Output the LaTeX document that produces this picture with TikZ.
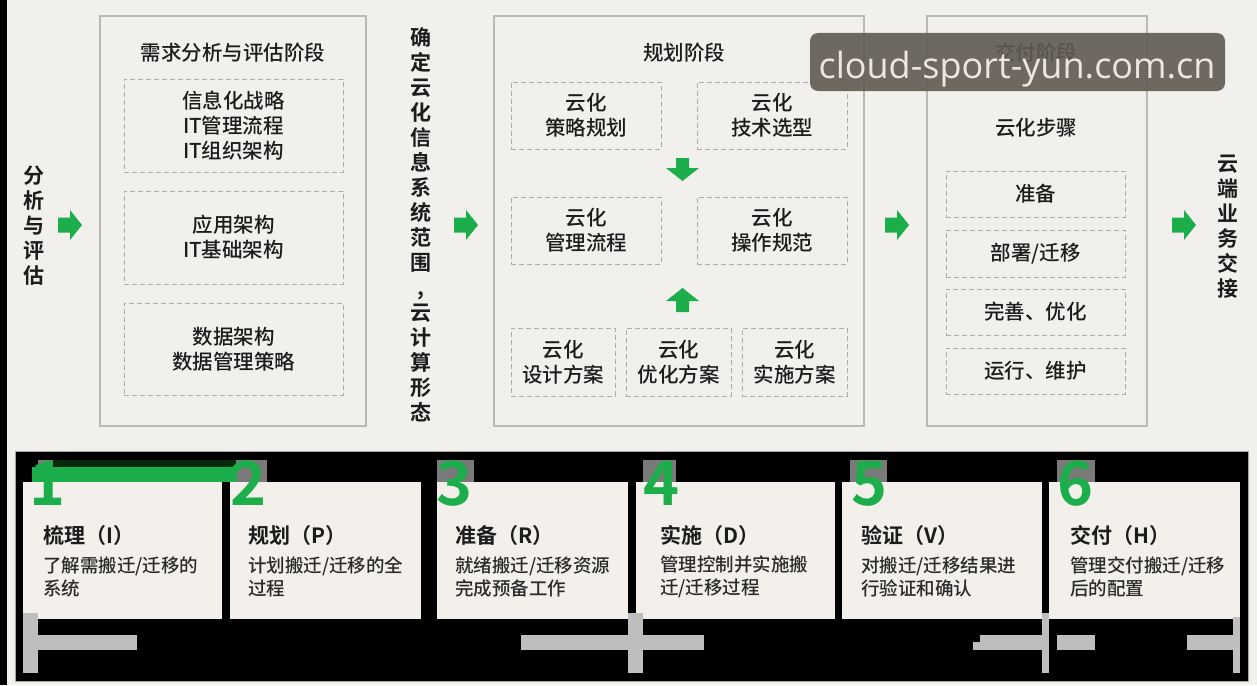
\documentclass[tikz,border=0pt]{standalone}
\usepackage{fontspec}
\newfontfamily\cjk[BoldFont={Noto Sans CJK SC Bold}]{Noto Sans CJK SC Medium}
\newfontfamily\wmfont{Open Sans}
\definecolor{bg}{HTML}{F2F0ED}
\definecolor{cardbg}{HTML}{F3F0EB}
\definecolor{boxgray}{HTML}{B9B9B9}
\definecolor{dashgray}{HTML}{ADADAD}
\definecolor{ink}{HTML}{1C1C1C}
\definecolor{ink2}{HTML}{2A2A2A}
\definecolor{agreen}{HTML}{1BAE4A}
\definecolor{artgray}{HTML}{BEBEBE}
\definecolor{numgray}{HTML}{7A7A7A}
\definecolor{darkgreen}{HTML}{072B0D}
\definecolor{wmbg}{HTML}{5F5B51}
\definecolor{wmtext}{HTML}{EDE6DF}
\newcommand\rarr[2]{\fill[agreen] ({#1-12},{#2-7.5}) -- ({#1},{#2-7.5}) -- ({#1},{#2-15}) -- ({#1+12},{#2}) -- ({#1},{#2+15}) -- ({#1},{#2+7.5}) -- ({#1-12},{#2+7.5}) -- cycle;}
\begin{document}
\begin{tikzpicture}[x=1pt,y=-1pt,
  stagebox/.style={draw=boxgray, line width=1.6pt},
  dbox/.style={draw=dashgray, dash pattern=on 5pt off 3pt, line width=1pt, inner sep=0pt,
     font=\cjk\fontsize{20.5}{25}\selectfont, text=ink, align=center},
  txt/.style={font=\cjk\fontsize{20.5}{25}\selectfont, text=ink, align=center, inner sep=0pt},
  vtxt/.style={font=\cjk\bfseries\fontsize{21}{25}\selectfont, text=ink, align=center, inner sep=0pt},
  card/.style={fill=cardbg, inner sep=0pt},
  ctitle/.style={font=\cjk\bfseries\fontsize{21}{25}\selectfont, text=ink, anchor=base west, inner sep=0pt},
  cdesc/.style={font=\cjk\fontsize{18.5}{23}\selectfont, text=ink2, anchor=west, align=left, inner sep=0pt},
  num/.style={font=\cjk\bfseries\fontsize{61}{61}\selectfont, text=agreen, anchor=base, inner sep=0pt}]
\useasboundingbox (0,0) rectangle (1257,685);
\fill[bg] (0,0) rectangle (1257,685);
\fill[black] (0,0) rectangle (7,685);

% ---------- top: stages ----------
\draw[stagebox] (100,16) rectangle (366,426);
\draw[stagebox] (494,16) rectangle (864,426);
\draw[stagebox] (927,16) rectangle (1147,426);

\node[vtxt] (v1) at (34,226) {分\\析\\与\\评\\估};
\rarr{70}{225}

\node[txt] (t1) at (233,53) {需求分析与评估阶段};
\node[dbox, minimum width=219pt, minimum height=93pt] (a1) at (233.5,125.5) {信息化战略\\IT管理流程\\IT组织架构};
\node[dbox, minimum width=219pt, minimum height=93pt] (a2) at (233.5,237.5) {应用架构\\IT基础架构};
\node[dbox, minimum width=219pt, minimum height=92pt] (a3) at (233.5,349) {数据架构\\数据管理策略};

\node[vtxt] (v2) at (421,225) {确\\定\\云\\化\\信\\息\\系\\统\\范\\围\\,\\云\\计\\算\\形\\态};
\rarr{466}{225}

\node[txt] (t2) at (684,53) {规划阶段};
\node[dbox, minimum width=150pt, minimum height=67pt] (b1) at (586,115.5) {云化\\策略规划};
\node[dbox, minimum width=150pt, minimum height=67pt] (b2) at (772,115.5) {云化\\技术选型};
\fill[agreen] (676,158) -- (689,158) -- (689,168) -- (699,168) -- (682.5,181) -- (666,168) -- (676,168) -- cycle;
\node[dbox, minimum width=150pt, minimum height=67pt] (b3) at (586,230.5) {云化\\管理流程};
\node[dbox, minimum width=150pt, minimum height=67pt] (b4) at (772,230.5) {云化\\操作规范};
\fill[agreen] (676,312) -- (689,312) -- (689,301) -- (699,301) -- (682.5,288) -- (666,301) -- (676,301) -- cycle;
\node[dbox, minimum width=104pt, minimum height=68pt] (b5) at (563,362) {云化\\设计方案};
\node[dbox, minimum width=105pt, minimum height=68pt] (b6) at (678.5,362) {云化\\优化方案};
\node[dbox, minimum width=105pt, minimum height=68pt] (b7) at (794.5,362) {云化\\实施方案};

\rarr{897}{225}

\node[txt] (t3) at (1036,53) {交付阶段};
\node[txt] (t4) at (1036,128) {云化步骤};
\node[dbox, minimum width=179pt, minimum height=46pt] (d1) at (1035.5,194) {准备};
\node[dbox, minimum width=179pt, minimum height=47pt] (d2) at (1035.5,253.5) {部署/迁移};
\node[dbox, minimum width=179pt, minimum height=46pt] (d3) at (1035.5,312) {完善、优化};
\node[dbox, minimum width=179pt, minimum height=46pt] (d4) at (1035.5,371) {运行、维护};

\rarr{1184}{225}
\node[vtxt] (v3) at (1228,227) {云\\端\\业\\务\\交\\接};

% watermark
\fill[wmbg, fill opacity=0.9, rounded corners=8pt] (810,33) rectangle (1225,91);
\node[font=\wmfont\fontsize{36}{36}\selectfont, text=wmtext, anchor=base, inner sep=0pt] (wm) at (1017,78) {cloud-sport-yun.com.cn};

% ---------- bottom: six steps ----------
\filldraw[fill=black, draw=gray!70, line width=0.8pt] (15,451) rectangle (1248,681);

\fill[numgray] (38,460) rectangle (55,482);
\fill[numgray] (230,460) rectangle (267,482);
\fill[numgray] (437,460) rectangle (474,482);
\fill[numgray] (643,460) rectangle (676,482);
\fill[numgray] (850,460) rectangle (887,482);
\fill[numgray] (1057,460) rectangle (1095,482);

\node[card, minimum width=199pt, minimum height=137pt] (c1) at (122.5,550.5) {};
\node[card, minimum width=191pt, minimum height=137pt] (c2) at (325.5,550.5) {};
\node[card, minimum width=191pt, minimum height=137pt] (c3) at (532.5,550.5) {};
\node[card, minimum width=199pt, minimum height=137pt] (c4) at (735.5,550.5) {};
\node[card, minimum width=200pt, minimum height=137pt] (c5) at (942,550.5) {};
\node[card, minimum width=191pt, minimum height=137pt] (c6) at (1144.5,550.5) {};

\fill[darkgreen] (53,460) rectangle (236,467);
\fill[agreen] (32,467) rectangle (237,482);

\node[num] (n1) at (47,505) {1};
\node[num] (n2) at (248,505) {2};
\node[num] (n3) at (454,505) {3};
\node[num] (n4) at (661,505) {4};
\node[num] (n5) at (869,505) {5};
\node[num] (n6) at (1075,505) {6};

\node[ctitle] (h1) at (43,543) {梳理（I）};
\node[cdesc] (e1) at (43,576.5) {了解需搬迁/迁移的\\系统};
\node[ctitle] (h2) at (248,543) {规划（P）};
\node[cdesc] (e2) at (248,576.5) {计划搬迁/迁移的全\\过程};
\node[ctitle] (h3) at (455,543) {准备（R）};
\node[cdesc] (e3) at (455,576.5) {就绪搬迁/迁移资源\\完成预备工作};
\node[ctitle] (h4) at (660,543) {实施（D）};
\node[cdesc] (e4) at (660,576.5) {管理控制并实施搬\\迁/迁移过程};
\node[ctitle] (h5) at (861,543) {验证（V）};
\node[cdesc] (e5) at (861,576.5) {对搬迁/迁移结果进\\行验证和确认};
\node[ctitle] (h6) at (1070,543) {交付（H）};
\node[cdesc] (e6) at (1070,576.5) {管理交付搬迁/迁移\\后的配置};

% gray artefacts
\fill[artgray] (23,613) rectangle (38,673);
\fill[artgray] (38,635) rectangle (137,650);
\fill[artgray] (521,635) rectangle (704,650);
\fill[artgray] (628,613) rectangle (643,673);
\fill[artgray] (980,635) rectangle (1042,650);
\fill[artgray] (973,642) rectangle (980,650);
\fill[artgray] (1042,613) rectangle (1049,673);
\fill[artgray] (1057,635) rectangle (1095,650);
\fill[artgray] (1187,635) rectangle (1240,650);
\fill[artgray] (1233,617) rectangle (1240,673);
\end{tikzpicture}
\end{document}
